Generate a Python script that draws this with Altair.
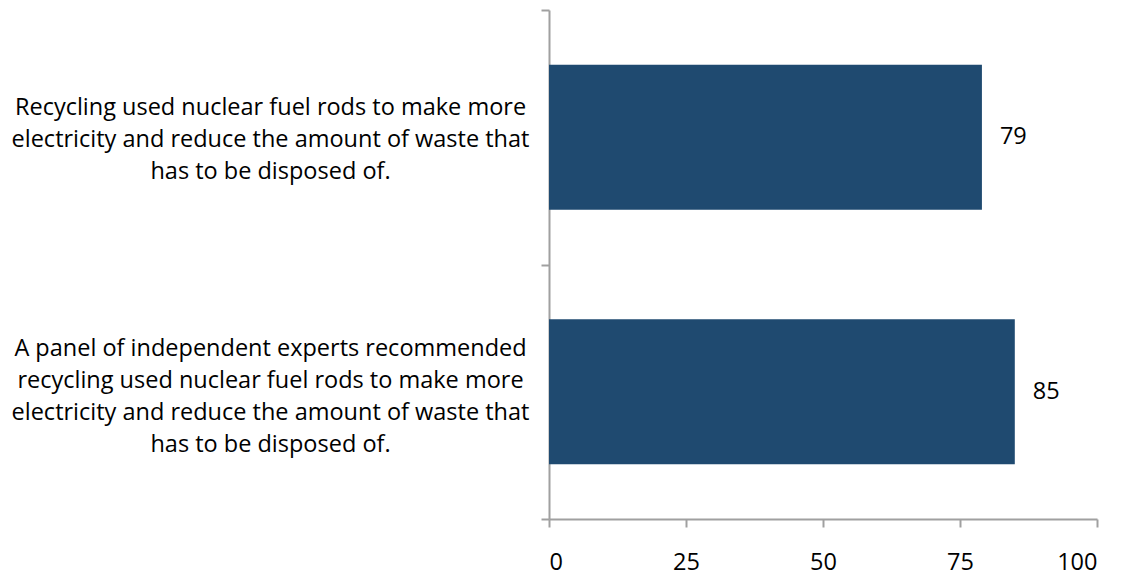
import altair as alt
import pandas as pd

categories = [
    "Recycling used nuclear fuel rods to make more|electricity and reduce the amount of waste that|has to be disposed of.",
    "A panel of independent experts recommended|recycling used nuclear fuel rods to make more|electricity and reduce the amount of waste that|has to be disposed of.",
]
values = [79, 85]
x_ticks = [0, 25, 50, 75, 100]

df = pd.DataFrame({"category": categories, "value": values})

FONT = "Open Sans"
FS = 23.5
GREY = "#a0a0a0"

base = alt.Chart(df).encode(
    y=alt.Y(
        "category:N",
        sort=None,
        title=None,
        scale=alt.Scale(paddingInner=0, paddingOuter=0),
        axis=alt.Axis(
            labelExpr="split(datum.label, '|')",
            labelAlign="center",
            labelBaseline="middle",
            labelPadding=271,
            labelFontSize=FS,
            labelLineHeight=32,
            labelFont=FONT,
            labelColor="#000000",
            labelOffset={
                "condition": {"test": "length(split(datum.value, '|')) == 4", "value": -43},
                "value": -30,
            },
            tickSize=8,
            tickColor=GREY,
            tickWidth=2,
            domainColor=GREY,
            domainWidth=2,
            tickBand="extent",
            labelLimit=0,
        ),
    ),
    x=alt.X(
        "value:Q",
        title=None,
        scale=alt.Scale(domain=[0, 100], nice=False),
        axis=alt.Axis(
            values=x_ticks,
            labelFontSize=FS,
            labelFont=FONT,
            labelColor="#000000",
            labelPadding=23,
            tickSize=8,
            tickColor=GREY,
            tickWidth=2,
            domainColor=GREY,
            domainWidth=2,
            grid=False,
        ),
    ),
)

bars = base.mark_bar(color="#1f4a70", height=alt.RelativeBandSize(0.57))
labels = base.mark_text(align="left", dx=18, fontSize=FS, font=FONT, color="#000000").encode(
    text=alt.Text("value:Q")
)

chart = (
    (bars + labels)
    .properties(
        width=548,
        height=509,
        background="#ffffff",
        autosize=alt.AutoSizeParams(type="none"),
        padding={"left": 541, "top": 2, "right": 10, "bottom": 56},
    )
    .configure_view(strokeWidth=0, stroke=None)
)

chart.save("out.html", embed_options={"renderer": "svg", "actions": False})
